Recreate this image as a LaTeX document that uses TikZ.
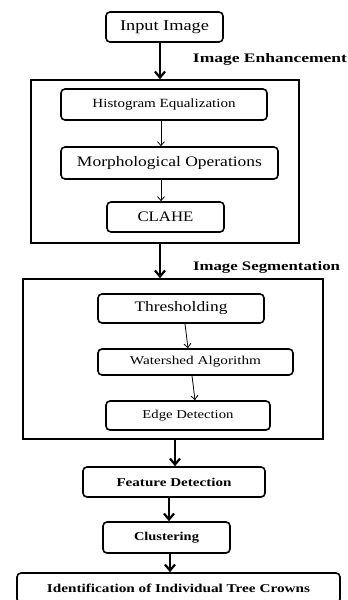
\documentclass[tikz,border=0pt]{standalone}
\usepackage{fontspec}
\setmainfont{Liberation Serif}
\usepackage{graphicx}
\usetikzlibrary{arrows.meta}
\newcommand\tx[3]{\resizebox{#1pt}{\height}{\fontsize{#2}{#2}\selectfont #3}}
\newcommand\btx[3]{\resizebox{#1pt}{\height}{\fontsize{#2}{#2}\selectfont\bfseries #3}}
\tikzset{
  rbox/.style={draw, rounded corners=4pt, line width=1.6pt, inner sep=0pt, anchor=center},
  obox/.style={draw, line width=1.6pt, inner sep=0pt, anchor=center},
  thick arrow/.style={line width=2.6pt, -{Straight Barb[length=6pt,width=10pt,line width=2.2pt]}},
  thin arrow/.style={line width=0.8pt, -{Straight Barb[length=4pt,width=7pt,line width=0.8pt]}},
  lbl/.style={inner sep=0pt, anchor=center}
}
\begin{document}
\begin{tikzpicture}[x=1pt,y=-1pt]
\clip (0,0) rectangle (348,600);
\useasboundingbox (0,0) rectangle (348,600);
\fill[white] (0,0) rectangle (348,600);

\node[rbox, minimum width=117pt, minimum height=30pt] (inp) at (164.5,27) {\tx{89}{15}{Input Image}};
\node[lbl] (enh) at (270,59) {\btx{154}{13}{Image Enhancement}};
\node[obox, minimum width=268pt, minimum height=163pt] (out1) at (165,161.5) {};
\node[rbox, minimum width=206pt, minimum height=31pt] (hist) at (164,104.5) {\tx{143}{12.5}{Histogram Equalization}};
\node[rbox, minimum width=217pt, minimum height=32pt] (morph) at (169.5,163) {\tx{185}{14.5}{Morphological Operations}};
\node[rbox, minimum width=117pt, minimum height=30pt] (clahe) at (165.5,217) {\tx{56}{14.5}{CLAHE}};

\node[lbl] (seg) at (266.5,267) {\btx{147}{13}{Image Segmentation}};
\node[obox, minimum width=300pt, minimum height=160pt] (out2) at (173,359) {};
\node[rbox, minimum width=166pt, minimum height=29pt] (thr) at (181,308.5) {\tx{93}{14.5}{Thresholding}};
\node[rbox, minimum width=195pt, minimum height=26pt] (wat) at (195.5,362) {\tx{131}{12}{Watershed Algorithm}};
\node[rbox, minimum width=164pt, minimum height=29pt] (edge) at (188,415.5) {\tx{91}{12}{Edge Detection}};

\node[rbox, minimum width=182pt, minimum height=30pt] (feat) at (174,482) {\btx{115}{12}{Feature Detection}};
\node[rbox, minimum width=127pt, minimum height=31pt] (clus) at (166.5,537.5) {\btx{65}{12}{Clustering}};
\node[rbox, minimum width=323pt, minimum height=30pt] (ident) at (178.5,588) {\btx{263}{12}{Identification of Individual Tree Crowns}};

\draw[thick arrow] ([xshift=-4.5pt]inp.south) -- ([xshift=-5pt]out1.north);
\draw[thin arrow] ([xshift=-3pt]hist.south) -- ([xshift=-8.5pt]morph.north);
\draw[thin arrow] ([xshift=-8.5pt]morph.south) -- ([xshift=-4.5pt]clahe.north);
\draw[thick arrow] ([xshift=-5pt]out1.south) -- ([xshift=-13pt]out2.north);
\draw[thin arrow] ([xshift=4pt]thr.south) -- ([xshift=-7.5pt]wat.north);
\draw[thin arrow] ([xshift=-3.5pt]wat.south) -- ([xshift=7pt]edge.north);
\draw[thick arrow] ([xshift=2pt]out2.south) -- ([xshift=1pt]feat.north);
\draw[thick arrow] ([xshift=-5pt]feat.south) -- ([xshift=2.5pt]clus.north);
\draw[thick arrow] ([xshift=3.5pt]clus.south) -- ([xshift=-8.5pt]ident.north);
\end{tikzpicture}
\end{document}
